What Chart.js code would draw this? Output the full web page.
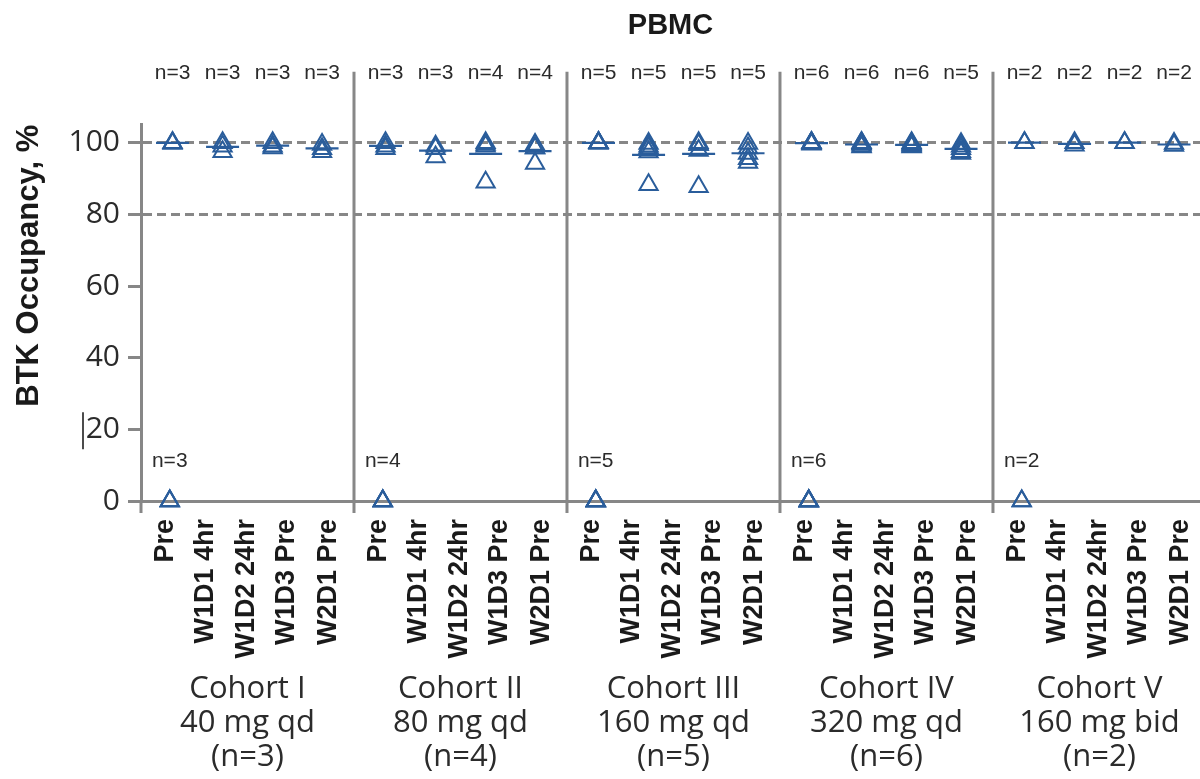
<!DOCTYPE html>
<html>
<head>
<meta charset="utf-8">
<script src="https://cdn.jsdelivr.net/npm/chart.js@4/dist/chart.umd.min.js"></script>
<style>
  html, body { margin: 0; padding: 0; background: #fff; }
  #wrap { width: 1200px; height: 779px; }
</style>
</head>
<body>
<div id="wrap"><canvas id="myChart" width="1200" height="779"></canvas></div>
<script>
'use strict';

// timepoints inside each cohort
var timepoints = ['Pre', 'W1D1 4hr', 'W1D2 24hr', 'W1D3 Pre', 'W2D1 Pre'];

// cohort captions under the axis
var cohortLabels = [
  ['Cohort I', '40 mg qd', '(n=3)'],
  ['Cohort II', '80 mg qd', '(n=4)'],
  ['Cohort III', '160 mg qd', '(n=5)'],
  ['Cohort IV', '320 mg qd', '(n=6)'],
  ['Cohort V', '160 mg bid', '(n=2)']
];

// BTK occupancy % per subject, one list per timepoint
var cohortI = [[0, 0, 0], [100, 100, 99.8], [100, 99, 97.5], [100, 99, 98.5], [99.5, 98.3, 97.5]];
var cohortII = [[0, 0, 0, 0], [100, 99, 98.3], [99, 98.3, 96], [100, 99.5, 99, 89], [99.5, 98.5, 98.5, 94.2]];
var cohortIII = [[0, 0, 0, 0, 0], [100, 100, 100, 100, 99.8], [99.8, 99, 98.5, 97.4, 88.3], [100, 99.5, 99.5, 97.8, 87.7], [99.8, 98.5, 97, 95.5, 94.5]];
var cohortIV = [[0, 0, 0, 0, 0, 0], [100, 100, 100, 99.8, 99.8, 99.6], [100, 100, 99.7, 99.5, 99, 98.8], [100, 99.8, 99.5, 99.3, 99, 98.8], [99.7, 99, 98.3, 97.5, 97]];
var cohortV = [[0, 0], [100, 100], [100, 99.3], [100, 100], [99.8, 99.2]];

var yTicks = [0, 20, 40, 60, 80, 100];

var cohorts = [cohortI, cohortII, cohortIII, cohortIV, cohortV];

// where marks / labels sit inside one cohort block (block width = 1)
var slotPos = [0.135, 0.148, 0.383, 0.618, 0.85];
var labelPos = [0.115, 0.305, 0.495, 0.685, 0.88];
var xMax = 4.972;

var blue = '#2a5d9b';
var grey = '#878787';

function mean(arr) {
  var s = 0;
  for (var i = 0; i < arr.length; i++) s += arr[i];
  return s / arr.length;
}

var points = [], means = [];
for (var c = 0; c < cohorts.length; c++) {
  for (var t = 0; t < timepoints.length; t++) {
    var vals = cohorts[c][t];
    for (var k = 0; k < vals.length; k++) {
      points.push({x: c + slotPos[t], y: vals[k]});
    }
    if (t > 0) means.push({x: c + slotPos[t], y: mean(vals)});
  }
}

var tickPositions = [];
var tickNames = [];
for (var c2 = 0; c2 < cohorts.length; c2++) {
  for (var t2 = 0; t2 < timepoints.length; t2++) {
    tickPositions.push(c2 + labelPos[t2]);
    tickNames.push(timepoints[t2]);
  }
}

// no side padding on the x axes, the plot runs to the right edge
function noSidePad(scale) {
  scale.paddingLeft = 0;
  scale.paddingRight = 0;
}

// separators, n= counts and the little mark next to "20"
var overlay = {
  id: 'overlay',
  beforeDatasetsDraw: function (chart) {
    var ctx = chart.ctx, area = chart.chartArea, x = chart.scales.x;
    ctx.save();
    ctx.strokeStyle = grey;
    ctx.lineWidth = 3;
    for (var c = 0; c < cohorts.length; c++) {
      var px = x.getPixelForValue(c);
      ctx.beginPath();
      ctx.moveTo(px, c === 0 ? area.bottom : area.top - 53);
      ctx.lineTo(px, area.bottom + 12);
      ctx.stroke();
    }
    ctx.restore();
  },
  afterDraw: function (chart) {
    var ctx = chart.ctx, area = chart.chartArea, x = chart.scales.x, y = chart.scales.y;
    ctx.save();
    ctx.font = '21px "Liberation Sans", Arial, sans-serif';
    ctx.fillStyle = '#2b2b2b';
    ctx.textAlign = 'center';
    ctx.textBaseline = 'middle';
    for (var c = 0; c < cohorts.length; c++) {
      for (var t = 0; t < timepoints.length; t++) {
        var px = x.getPixelForValue(c + slotPos[t]);
        var label = 'n=' + cohorts[c][t].length;
        if (t === 0) ctx.fillText(label, px, y.getPixelForValue(11));
        else ctx.fillText(label, px, area.top - 52);
      }
    }
    // stray cursor mark in the original figure
    ctx.strokeStyle = '#111';
    ctx.lineWidth = 1.5;
    var p20 = y.getPixelForValue(20);
    ctx.beginPath();
    ctx.moveTo(83, p20 - 17);
    ctx.lineTo(83, p20 + 20);
    ctx.stroke();
    ctx.restore();
  }
};

var ctx = document.getElementById('myChart').getContext('2d');
var myChart = new Chart(ctx, {
  type: 'scatter',
  data: {
    datasets: [
      {
        label: 'Subjects',
        data: points,
        pointStyle: 'triangle',
        pointRadius: 10.5,
        pointHoverRadius: 10.5,
        borderColor: blue,
        backgroundColor: 'rgba(0,0,0,0)',
        pointBorderWidth: 2,
        clip: false
      },
      {
        label: 'Mean',
        data: means,
        pointStyle: 'line',
        pointRadius: 16.5,
        pointHoverRadius: 16.5,
        borderColor: blue,
        pointBorderWidth: 2.2,
        clip: false
      }
    ]
  },
  options: {
    responsive: false,
    animation: false,
    events: [],
    layout: {autoPadding: false, padding: {left: 0, right: 0, top: 0, bottom: 0}},
    plugins: {
      legend: {display: false},
      tooltip: {enabled: false},
      title: {
        display: true,
        text: 'PBMC',
        fullSize: false,
        color: '#1a1a1a',
        font: {family: '"Liberation Sans", Arial, sans-serif', size: 29, weight: 'bold'},
        padding: {top: 9, bottom: 81}
      }
    },
    scales: {
      x: {
        type: 'linear',
        position: 'bottom',
        min: 0,
        max: xMax,
        afterBuildTicks: function (scale) {
          scale.ticks = tickPositions.map(function (v) { return {value: v}; });
        },
        afterFit: function (scale) { scale.height = 164; noSidePad(scale); },
        grid: {display: false, drawTicks: false},
        border: {display: true, color: grey, width: 3},
        ticks: {
          autoSkip: false,
          maxRotation: 90,
          minRotation: 90,
          padding: 18,
          color: '#1a1a1a',
          font: {family: '"Liberation Sans", Arial, sans-serif', size: 27, weight: 'bold'},
          callback: function (value, index) { return tickNames[index]; }
        }
      },
      cohort: {
        type: 'linear',
        position: 'bottom',
        axis: 'x',
        min: 0,
        max: xMax,
        afterBuildTicks: function (scale) {
          scale.ticks = cohortLabels.map(function (l, i) { return {value: i + 0.5}; });
        },
        afterFit: function (scale) { scale.height = 114; noSidePad(scale); },
        grid: {display: false, drawTicks: false},
        border: {display: false},
        ticks: {
          autoSkip: false,
          maxRotation: 0,
          minRotation: 0,
          padding: 7,
          color: '#2b2b2b',
          font: {family: '"Open Sans", sans-serif', size: 31, lineHeight: 1.1},
          callback: function (value, index) { return cohortLabels[index]; }
        }
      },
      y: {
        min: 0,
        max: 105,
        afterBuildTicks: function (scale) {
          scale.ticks = yTicks.map(function (v) { return {value: v}; });
        },
        afterFit: function (scale) { scale.width = 141; },
        grid: {
          color: function (c) {
            return (c.tick && (c.tick.value === 80 || c.tick.value === 100)) ? grey : 'rgba(0,0,0,0)';
          },
          lineWidth: 3,
          tickColor: grey,
          tickLength: 13,
          tickWidth: 3,
          tickBorderDash: [],
          drawTicks: true
        },
        border: {display: true, color: grey, width: 3, dash: [9, 5]},
        ticks: {
          padding: 8,
          color: '#2b2b2b',
          font: {family: '"Open Sans", sans-serif', size: 30}
        },
        title: {
          display: true,
          text: 'BTK Occupancy, %',
          align: 'end',
          color: '#1a1a1a',
          font: {family: '"Liberation Sans", Arial, sans-serif', size: 31, weight: 'bold'},
          padding: {top: 11, bottom: 0}
        }
      }
    }
  },
  plugins: [overlay]
});
</script>
</body>
</html>
